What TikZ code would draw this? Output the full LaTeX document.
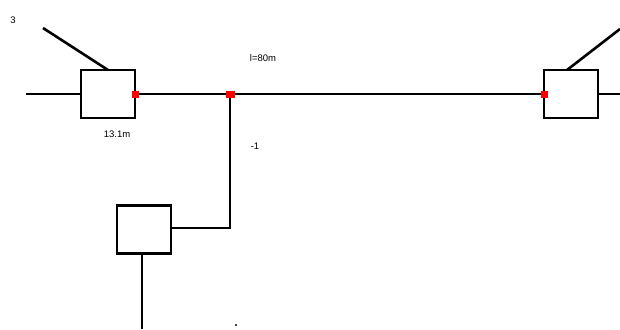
\documentclass[tikz,border=0pt]{standalone}
\usepackage{fontspec}
\setmainfont{Liberation Sans}
\begin{document}
\begin{tikzpicture}[x=1pt,y=-1pt,
  box/.style={draw,line width=2.6pt,minimum width=54pt,minimum height=48pt,inner sep=0pt,outer sep=0pt},
  wire/.style={line width=2.6pt},
  reddot/.style={fill=red,inner sep=0pt,minimum width=7pt,minimum height=7pt},
  lbl/.style={font=\fontsize{9.5}{11}\selectfont,inner sep=0pt}]
\useasboundingbox (0,0) rectangle (620,329);
\node[box] (b1) at (108,94) {};
\node[box] (b2) at (144,229.5) {};
\node[box] (b3) at (571,94) {};
\coordinate (l1) at (26,94);
\coordinate (d1) at (43,28);
\coordinate (d3) at (620,29);
\coordinate (r3) at (620,94);
\coordinate (bot) at (142,329);
\coordinate (j) at (230,94);
\coordinate (c) at (230,228);
\draw[wire] (l1) -- (b1.west);
\draw[wire] (d1) -- (b1.north);
\draw[wire] (b1.east) -- (b3.west);
\draw[wire] (b3.north) ++(-4,0) coordinate (t3) -- (d3);
\draw[wire] (b3.east) -- (r3);
\draw[wire] (j) -- (c) -- (b2.east |- c);
\draw[wire] (b2.south -| bot) -- (bot);
\node[reddot] (rd1) at (b1.east) {};
\node[reddot,minimum width=9pt] (rdj) at (j) {};
\node[reddot] (rd3) at (b3.west) {};
\node[lbl] (t1) at (13,20) {3};
\node[lbl] (t2) at (117,134) {13.1m};
\node[lbl] (t4) at (263,58) {l=80m};
\node[lbl] (t5) at (255,146) {-1};
\fill (236,325) circle (1.2pt);
\end{tikzpicture}
\end{document}
